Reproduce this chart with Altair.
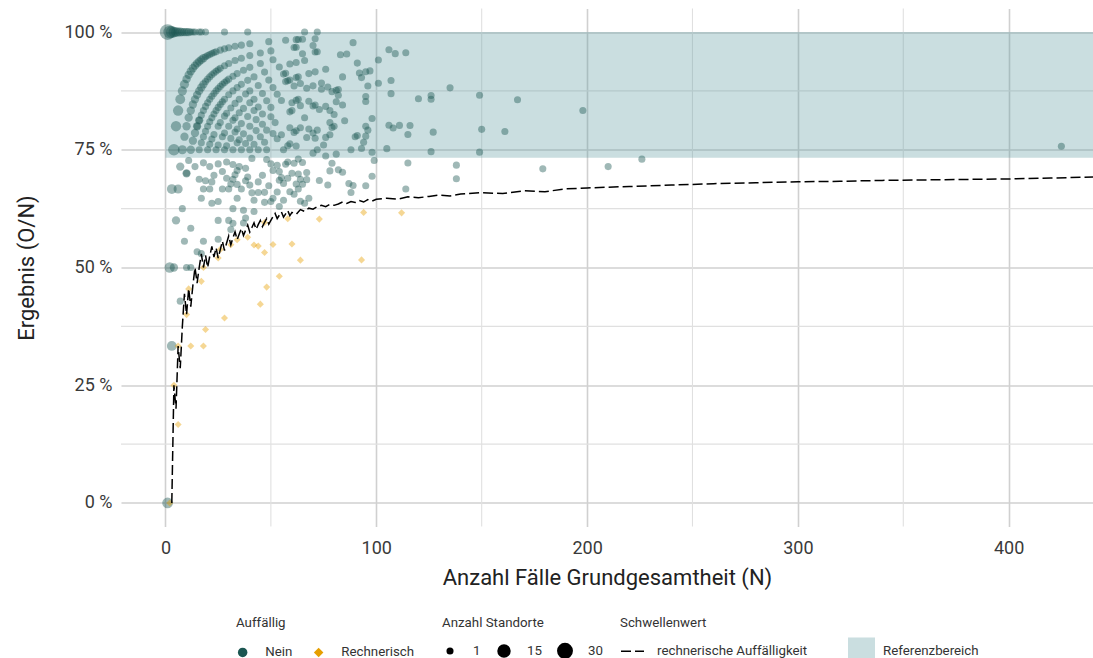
import altair as alt
import pandas as pd

# ---------------- data ----------------
# points with several sites (Anzahl Standorte > 1) and the 100 % row
multi_N = [1, 2, 3, 4, 5, 6, 7, 8, 9, 10, 11, 12, 13, 14, 16, 17, 19, 28, 39,
           1, 2, 4, 3, 3, 6, 5,
           4, 5, 6, 7, 8, 9, 10, 11, 12,
           8, 9, 10, 11, 12,
           12, 13, 14, 15, 16, 7, 10]
multi_O = [1, 2, 3, 4, 5, 6, 7, 8, 9, 10, 11, 12, 13, 14, 16, 17, 19, 28, 39,
           0, 1, 2, 1, 2, 4, 3,
           3, 4, 5, 6, 7, 8, 9, 10, 11,
           6, 7, 8, 9, 10,
           9, 10, 11, 12, 13, 5, 7]
multi_sites = [28, 12, 9, 6, 4, 3, 3, 2, 2, 2, 2, 1, 1, 1, 1, 1, 1, 1, 1,
               6, 5, 2, 4, 4, 3, 2,
               8, 5, 5, 4, 3, 3, 2, 2, 2,
               3, 2, 2, 2, 2,
               2, 2, 2, 2, 2, 2, 2]

# arcs of results with 1, 2, 3 ... missing events
arc1_N = [13, 14, 15, 16, 17, 18, 19, 20, 21, 22, 23, 24, 26, 28, 30, 33, 36, 40]
arc1_O = [12, 13, 14, 15, 16, 17, 18, 19, 20, 21, 22, 23, 25, 27, 29, 32, 35, 39]
arc1_sites = [2, 2, 2, 2, 2, 2, 1, 1, 1, 1, 1, 1, 1, 1, 1, 1, 1, 1]
arc2_N = [13, 14, 15, 16, 17, 18, 19, 20, 21, 22, 23, 24, 25, 26, 28, 30, 33, 36, 40, 45, 50]
arc2_O = [11, 12, 13, 14, 15, 16, 17, 18, 19, 20, 21, 22, 23, 24, 26, 28, 31, 34, 38, 43, 48]
arc2_sites = [2, 2, 2, 2, 2, 2, 1, 1, 1, 1, 1, 1, 1, 1, 1, 1, 1, 1, 1, 1, 1]
arc3_N = [15, 16, 17, 18, 19, 20, 21, 22, 23, 24, 25, 26, 27, 28, 29, 30, 32, 34, 37, 40, 45, 51]
arc3_O = [12, 13, 14, 15, 16, 17, 18, 19, 20, 21, 22, 23, 24, 25, 26, 27, 29, 31, 34, 37, 42, 48]
arc4_N = [16, 17, 18, 19, 20, 21, 22, 23, 24, 25, 26, 27, 28, 30, 32, 34, 36, 39, 42, 47, 54]
arc4_O = [12, 13, 14, 15, 16, 17, 18, 19, 20, 21, 22, 23, 24, 26, 28, 30, 32, 35, 38, 43, 50]
arc5_N = [20, 21, 22, 23, 25, 26, 28, 29, 31, 33, 35, 38, 40, 44, 49, 56]
arc5_O = [15, 16, 17, 18, 20, 21, 23, 24, 26, 28, 30, 33, 35, 39, 44, 51]
arc6_N = [24, 25, 27, 28, 30, 32, 33, 35, 37, 40, 42, 46, 51, 58]
arc6_O = [18, 19, 21, 22, 24, 26, 27, 29, 31, 34, 36, 40, 45, 52]
arc7_N = [28, 29, 31, 33, 34, 36, 39, 42, 44, 48, 53]
arc7_O = [21, 22, 24, 26, 27, 29, 32, 35, 37, 41, 46]
arc8_N = [32, 34, 35, 37, 40, 43, 46, 50, 55]
arc8_O = [24, 26, 27, 29, 32, 35, 38, 42, 47]
arc9_N = [36, 38, 40, 43, 46, 50]
arc9_O = [27, 29, 31, 34, 37, 41]
arc10_N = [40, 42, 45, 48, 52]
arc10_O = [30, 32, 35, 38, 42]
arc11_N = [44, 47, 51]
arc11_O = [33, 36, 40]
arc12_N = [48, 53]
arc12_O = [36, 41]

# scattered single-site results below the reference band (small N)
low_N = [7, 10, 16, 17, 22, 25, 8, 12, 25, 31, 9, 15, 10, 12, 19, 21, 23, 27, 29, 31, 33, 34, 38, 30, 27,
         34, 36, 41, 44, 42, 49, 44, 46, 53, 51, 54, 48, 41, 38, 35, 32, 29, 25, 18, 21, 14, 11, 47, 42,
         37, 32, 38, 30, 50, 53, 56, 54, 18, 17, 25, 32, 37, 18, 22, 40, 47, 51, 39, 34, 32, 50, 58, 54,
         55, 79, 67, 68]
low_O = [3, 7, 11, 11, 14, 16, 5, 7, 15, 18, 5, 8, 5, 6, 13, 14, 16, 19, 20, 21, 23, 23, 26, 20, 18,
         22, 24, 27, 29, 27, 33, 30, 32, 38, 36, 37, 35, 30, 27, 25, 23, 21, 18, 13, 15, 10, 8, 30, 26,
         23, 20, 23, 18, 32, 35, 36, 34, 10, 9, 14, 19, 22, 12, 15, 27, 31, 33, 27, 24, 22, 36, 42, 38,
         38, 57, 46, 44]

# single-site results, N about 55 to 115
mid_N = [57, 58, 56, 61, 63, 65, 67, 64, 62, 59, 61, 64, 66, 73, 77, 78, 82, 84, 87, 89, 88, 95, 98, 115,
         114, 81, 70, 63, 60, 65, 63, 99,
         89, 83, 86, 91, 84, 93, 95, 97, 101, 106, 109, 114, 101, 107, 107, 82, 81, 95, 95, 84, 81, 98,
         106, 108, 111, 95, 96, 90, 95, 94, 93, 88, 105,
         66, 72, 57, 63, 71, 61, 62, 70, 65, 71, 59, 62, 66, 57, 62, 63, 64, 68, 71, 76, 70, 74, 77, 92,
         96, 57, 59, 61, 67, 74, 79, 82, 63, 60, 62, 59, 60, 64, 68, 70, 71, 76, 78, 80, 73, 66, 78, 79,
         80, 85, 91, 55, 61, 62, 59, 68, 70, 71, 72, 64, 67, 76, 78, 75, 56, 58, 59, 62, 72, 76, 98,
         49, 62, 65, 72]
mid_O = [41, 40, 38, 44, 44, 47, 47, 44, 42, 39, 40, 41, 42, 50, 52, 55, 58, 59, 59, 60, 58, 64, 68, 83,
         76, 60, 52, 46, 42, 44, 42, 72,
         87, 79, 82, 85, 76, 84, 87, 89, 95, 102, 104, 109, 90, 96, 93, 72, 71, 82, 81, 71, 69, 80,
         85, 86, 89, 76, 76, 70, 74, 72, 70, 66, 79,
         66, 72, 56, 62, 70, 59, 60, 68, 62, 68, 55, 58, 62, 52, 56, 57, 57, 62, 65, 70, 62, 66, 68, 84,
         85, 51, 53, 54, 59, 65, 69, 71, 54, 51, 53, 49, 50, 54, 58, 59, 60, 64, 65, 66, 61, 54, 63, 63,
         64, 69, 71, 43, 48, 49, 47, 54, 55, 55, 57, 51, 52, 59, 61, 57, 42, 44, 45, 47, 54, 56, 73,
         48, 61, 64, 69]

# sparse single-site results with large N
high_N = [135, 120, 126, 126, 149, 167, 116, 115, 127, 150, 161, 126, 149, 138, 138, 179, 198, 210, 226, 425]
high_O = [119, 103, 109, 108, 129, 143, 93, 90, 100, 119, 127, 94, 111, 99, 95, 127, 165, 150, 165, 322]

# computationally conspicuous results (Rechnerisch)
rech_N = [2, 4, 6, 6, 10, 11, 12, 17, 18, 18, 19, 25, 26, 28, 31, 34, 39, 42, 44, 45, 47, 47, 48, 51,
          54, 58, 60, 64, 73, 93, 94, 112]
rech_O = [0, 1, 1, 2, 4, 5, 4, 8, 6, 9, 7, 13, 14, 11, 17, 19, 22, 23, 24, 19, 25, 28, 22, 28,
          26, 35, 33, 33, 44, 48, 58, 69]

# threshold (rechnerische Auffälligkeit), in percent
thr_N = [3, 4, 5, 6, 7, 8, 9, 10, 11, 12, 13, 14, 15, 16, 17, 18, 19, 20, 21, 22, 23, 24, 25, 26, 27,
         28, 29, 30, 31, 32, 33, 34, 35, 36, 37, 38, 39, 40, 41, 42, 43, 44, 45, 46, 47, 48, 49, 50,
         51, 52, 53, 54, 55, 56, 57, 58, 59, 60, 62, 64, 66, 68, 70, 72, 74, 76, 78, 80, 82, 84, 86,
         88, 90, 92, 94, 96, 98, 100, 105, 110, 115, 120, 125, 130, 135, 140, 150, 160, 170, 180, 190,
         200, 220, 240, 260, 280, 300, 320, 340, 360, 380, 400, 420, 440]
thr_pct = [0.0, 25.0, 20.0, 33.3, 28.6, 37.5, 44.4, 40.0, 45.5, 41.7, 46.2, 50.0, 46.7, 50.0, 52.9,
           50.0, 52.6, 50.0, 52.4, 54.5, 52.2, 54.2, 52.0, 53.8, 55.6, 53.6, 55.2, 56.7, 54.8, 56.3,
           57.6, 55.9, 57.1, 58.3, 56.8, 57.9, 59.0, 57.5, 58.5, 59.5, 58.1, 59.1, 60.0, 58.7, 59.6,
           60.4, 59.2, 60.0, 60.8, 61.5, 60.4, 61.1, 61.8, 60.7, 61.4, 62.1, 61.0, 61.7, 61.3, 62.3,
           61.9, 62.6, 62.4, 62.9, 63.2, 62.9, 63.4, 63.2, 63.5, 63.9, 63.6, 64.0, 63.8, 64.2, 63.9,
           64.4, 64.1, 64.5, 64.7, 64.5, 65.0, 64.8, 65.1, 65.4, 65.2, 65.6, 65.9, 65.7, 66.3, 66.1,
           66.7, 66.9, 67.2, 67.5, 67.8, 68.0, 68.2, 68.3, 68.5, 68.6, 68.7, 68.8, 69.0, 69.2]

# reference range (Referenzbereich), percent
ref_low = 73.3
ref_high = 100.0

# minor grid positions
minor_x = [50, 150, 250, 350]
minor_y = [12.5, 37.5, 62.5, 87.5]

# ---------------- build tables ----------------
def frame(ns, os, sites, status):
    return pd.DataFrame({"N": ns, "O": os, "Standorte": sites, "Auffällig": status})

parts = [frame(multi_N, multi_O, multi_sites, "Nein"),
         frame(arc1_N, arc1_O, arc1_sites, "Nein"),
         frame(arc2_N, arc2_O, arc2_sites, "Nein")]
for ns, os in [(arc3_N, arc3_O), (arc4_N, arc4_O), (arc5_N, arc5_O), (arc6_N, arc6_O),
               (arc7_N, arc7_O), (arc8_N, arc8_O), (arc9_N, arc9_O), (arc10_N, arc10_O),
               (arc11_N, arc11_O), (arc12_N, arc12_O),
               (low_N, low_O), (mid_N, mid_O), (high_N, high_O)]:
    parts.append(frame(ns, os, [1] * len(ns), "Nein"))
parts.append(frame(rech_N, rech_O, [1] * len(rech_N), "Rechnerisch"))
pts = pd.concat(parts, ignore_index=True)
pts["Ergebnis"] = pts["O"] / pts["N"] * 100

thr = pd.DataFrame({"N": thr_N, "Ergebnis": thr_pct, "Schwellenwert": "rechnerische Auffälligkeit"})
band = pd.DataFrame({"x0": [0], "x1": [470], "lo": [ref_low], "hi": [ref_high], "lab": ["Referenzbereich"]})

# ---------------- scales / axes ----------------
x_scale = alt.Scale(domain=[-21.1, 440], nice=False, zero=False)
y_scale = alt.Scale(domain=[-5, 105], nice=False, zero=False)
x_axis = alt.Axis(values=[0, 100, 200, 300, 400], title="Anzahl Fälle Grundgesamtheit (N)",
                  labelPadding=13, titlePadding=10)
y_axis = alt.Axis(values=[0, 25, 50, 75, 100], labelExpr="datum.value + ' %'",
                  title="Ergebnis (O/N)", labelPadding=9, titlePadding=26)

grid_h = alt.Chart(pd.DataFrame({"g": minor_y})).mark_rule(color="#e0e0e0", strokeWidth=1.1).encode(
    y=alt.Y("g:Q", scale=y_scale, axis=y_axis))
grid_v = alt.Chart(pd.DataFrame({"g": minor_x})).mark_rule(color="#e0e0e0", strokeWidth=1.1).encode(
    x=alt.X("g:Q", scale=x_scale, axis=x_axis))

band_layer = alt.Chart(band).mark_rect(opacity=0.33, clip=True).encode(
    x=alt.X("x0:Q", scale=x_scale, axis=x_axis),
    x2="x1:Q",
    y=alt.Y("lo:Q", scale=y_scale, axis=y_axis),
    y2="hi:Q",
    fill=alt.Fill("lab:N", scale=alt.Scale(range=["#5e9ca0"]),
                  legend=alt.Legend(title=None, orient="none", legendX=727, legendY=629,
                                    direction="horizontal", symbolSize=729, labelOffset=8,
                                    symbolStrokeWidth=0)),
)

auff_legend = alt.Legend(title="Auffällig", orient="none", legendX=115, legendY=607,
                         direction="horizontal", columns=2, symbolSize=90, symbolOpacity=1,
                         labelOffset=16, columnPadding=19, titlePadding=17, symbolStrokeWidth=0)

points = alt.Chart(pts).mark_point(filled=True, opacity=0.42, strokeWidth=0).encode(
    x=alt.X("N:Q", scale=x_scale, axis=x_axis),
    y=alt.Y("Ergebnis:Q", scale=y_scale, axis=y_axis),
    color=alt.Color("Auffällig:N", scale=alt.Scale(domain=["Nein", "Rechnerisch"],
                                                   range=["#1b5651", "#e69f00"]),
                    legend=auff_legend),
    shape=alt.Shape("Auffällig:N", scale=alt.Scale(domain=["Nein", "Rechnerisch"],
                                                   range=["circle", "diamond"]),
                    legend=auff_legend),
    size=alt.Size("Standorte:Q", scale=alt.Scale(type="sqrt", domain=[1, 30], range=[50, 254]),
                  legend=alt.Legend(title="Anzahl Standorte", orient="none", legendX=321, legendY=607,
                                    direction="horizontal", columns=3, values=[1, 15, 30],
                                    symbolFillColor="black", symbolStrokeColor="black",
                                    symbolOpacity=1, symbolType="circle", labelOffset=15,
                                    columnPadding=15, titlePadding=14, symbolStrokeWidth=0)),
)

line = alt.Chart(thr).mark_line(color="black", strokeWidth=1.5, clip=True).encode(
    x=alt.X("N:Q", scale=x_scale, axis=x_axis),
    y=alt.Y("Ergebnis:Q", scale=y_scale, axis=y_axis),
    strokeDash=alt.StrokeDash("Schwellenwert:N", scale=alt.Scale(range=[[10, 4]]),
                              legend=alt.Legend(title="Schwellenwert", orient="none", legendX=499,
                                                legendY=607, direction="horizontal",
                                                symbolSize=529, symbolStrokeColor="black",
                                                symbolStrokeWidth=1.5, labelOffset=12,
                                                titlePadding=10)),
)

chart = alt.layer(grid_h, grid_v, band_layer, points, line).properties(
    width=972, height=518,
    autosize=alt.AutoSizeParams(type="none"),
    padding={"left": 121, "top": 8.5, "right": 0, "bottom": 131.5},
).configure(font="Roboto", background="white").configure_view(stroke=None).configure_axis(
    domain=False, ticks=False, grid=True, gridColor="#d0d0d0", gridWidth=1.6,
    labelFontSize=18, titleFontSize=22, titleFontWeight="normal",
    labelColor="#3a3a3a", titleColor="#222222",
).configure_legend(
    titleFontSize=13.3, titleFontWeight="normal", labelFontSize=13.3,
    titleColor="#333333", labelColor="#333333", padding=0,
)

chart.save("out.html", embed_options={"renderer": "svg", "actions": False})
